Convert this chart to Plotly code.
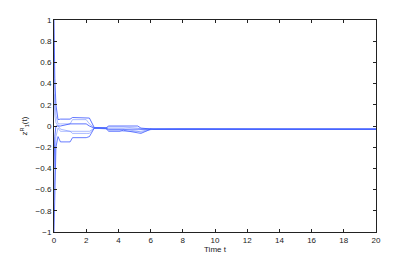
import plotly.graph_objects as go

# time samples (s) and trajectories
t = [0, 0.05, 0.12, 0.25, 0.4, 1.0, 1.15, 2.0, 2.2, 2.5, 3.2, 3.4, 4.1, 4.3, 5.2, 5.4, 6.0, 6.2, 8, 10, 14.5, 20]

z_a = [1.0, 0.45, 0.2, 0.06, 0.065, 0.065, 0.08, 0.08, 0.075, -0.015, -0.02, 0.0, 0.0, 0.0, 0.0, -0.02, -0.03, -0.03, -0.028, -0.03, -0.03, -0.03]
z_b = [0.6, 0.25, 0.1, 0.02, 0.02, 0.02, 0.06, 0.06, 0.02, -0.015, -0.02, -0.01, -0.01, -0.01, -0.02, -0.03, -0.03, -0.03, -0.03, -0.03, -0.03, -0.03]
z_c = [-0.4, -0.1, 0.0, 0.0, 0.0, 0.02, 0.02, 0.02, 0.0, -0.02, -0.02, -0.03, -0.03, -0.03, -0.03, -0.03, -0.03, -0.03, -0.032, -0.03, -0.03, -0.03]
z_d = [-0.7, -0.3, -0.1, -0.02, -0.05, -0.05, -0.07, -0.07, -0.07, -0.02, -0.02, -0.04, -0.04, -0.05, -0.05, -0.05, -0.03, -0.03, -0.03, -0.03, -0.03, -0.03]
z_e = [-1.0, -0.5, -0.2, -0.1, -0.15, -0.15, -0.11, -0.11, -0.1, -0.02, -0.02, -0.05, -0.05, -0.04, -0.07, -0.07, -0.03, -0.03, -0.03, -0.03, -0.03, -0.03]
z_f = [0.3, 0.1, 0.03, 0.0, -0.03, -0.05, -0.05, -0.05, -0.05, -0.02, -0.03, -0.03, -0.03, -0.03, -0.05, -0.06, -0.035, -0.03, -0.03, -0.03, -0.03, -0.03]

series = [z_a, z_b, z_c, z_d, z_e, z_f]
colors = ["rgba(40,70,255,0.75)", "rgba(90,120,255,0.5)", "rgba(40,70,255,0.75)",
          "rgba(90,120,255,0.5)", "rgba(40,70,255,0.7)", "rgba(90,120,255,0.5)"]

fig = go.Figure()
for z, c in zip(series, colors):
    fig.add_trace(go.Scatter(x=t, y=z, mode="lines", line=dict(color=c, width=1), showlegend=False))

font = dict(family="Liberation Sans", size=8, color="#222")
axis_style = dict(showline=True, linecolor="#222", linewidth=1, mirror="ticks",
                  ticks="inside", ticklen=3, tickcolor="#222", showgrid=False, zeroline=False,
                  tickfont=font, automargin=False)

fig.update_xaxes(range=[0, 20], dtick=2, title=dict(text="Time t", standoff=2, font=font), **axis_style)
fig.update_yaxes(range=[-1, 1], dtick=0.2,
                 title=dict(text="z<sup>R</sup><sub>1</sub>(t)", standoff=6, font=font), **axis_style)

# page body adds an 8px margin, so the figure is sized to fit inside it
fig.update_layout(width=407, height=254, margin=dict(l=46, r=39, t=12, b=30),
                  paper_bgcolor="white", plot_bgcolor="white")

fig.write_html("out.html")
